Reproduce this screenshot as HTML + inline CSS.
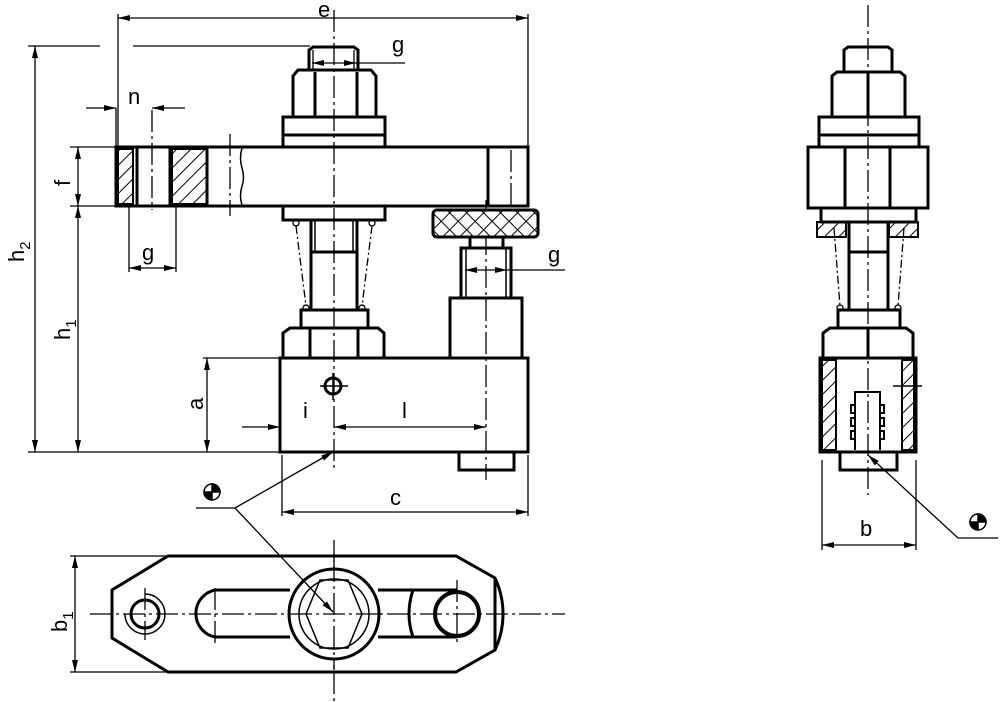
<!DOCTYPE html>
<html><head><meta charset="utf-8"><style>
html,body{margin:0;padding:0;background:#fff;}
svg{display:block}
text{font-family:"Liberation Sans","DejaVu Sans",sans-serif;font-size:22px;fill:#000}
</style></head><body>
<svg width="1000" height="702" viewBox="0 0 1000 702" xmlns="http://www.w3.org/2000/svg">
<defs>
<pattern id="h" width="10" height="10" patternUnits="userSpaceOnUse" patternTransform="rotate(45)">
<line x1="0" y1="0" x2="0" y2="10" stroke="#000" stroke-width="2"/></pattern>
<pattern id="k" width="12" height="12" patternUnits="userSpaceOnUse" patternTransform="rotate(45)">
<rect width="12" height="12" fill="#fff"/><line x1="0" y1="0" x2="0" y2="12" stroke="#000" stroke-width="2"/><line x1="0" y1="0" x2="12" y2="0" stroke="#000" stroke-width="2"/></pattern>
<marker id="a" markerWidth="12" markerHeight="6" refX="12" refY="3" orient="auto-start-reverse" markerUnits="userSpaceOnUse"><path d="M0,0 L12,3 L0,6z" fill="#000"/></marker>
</defs>
<g fill="none" stroke="#000" stroke-width="1.3">
<g stroke-dasharray="22,4,3,4">
<line x1="334" y1="10" x2="334" y2="470"/>
<line x1="486" y1="200" x2="486" y2="480"/>
<line x1="868" y1="5" x2="868" y2="495"/>
<line x1="334" y1="540" x2="334" y2="702"/>
<line x1="90" y1="614" x2="565" y2="614"/>
<line x1="152" y1="110" x2="152" y2="210"/>
<line x1="230" y1="134" x2="230" y2="216"/>
<line x1="511" y1="150" x2="511" y2="206"/>
<line x1="145" y1="588" x2="145" y2="640"/>
<line x1="215" y1="588" x2="215" y2="645"/>
<line x1="457" y1="580" x2="457" y2="645"/>
</g>
<g stroke-dasharray="8,3,2,3">
<line x1="296" y1="226" x2="306" y2="306"/><line x1="372" y1="226" x2="362" y2="306"/>
<line x1="834" y1="228" x2="840" y2="306"/><line x1="904" y1="228" x2="898" y2="306"/>
</g>
<circle cx="296" cy="223" r="3"/><circle cx="372" cy="223" r="3"/>
<circle cx="306" cy="308" r="3"/><circle cx="362" cy="308" r="3"/>
<circle cx="840" cy="308" r="3"/><circle cx="898" cy="308" r="3"/>
<line x1="118" y1="14" x2="118" y2="147"/><line x1="528" y1="14" x2="528" y2="147"/>
<line x1="118" y1="18" x2="528" y2="18" marker-start="url(#a)" marker-end="url(#a)"/>
<line x1="28" y1="46" x2="100" y2="46"/><line x1="133" y1="46" x2="310" y2="46"/>
<line x1="35" y1="46" x2="35" y2="452" marker-start="url(#a)" marker-end="url(#a)"/>
<line x1="28" y1="452" x2="280" y2="452"/>
<line x1="70" y1="147" x2="116" y2="147"/><line x1="70" y1="206" x2="116" y2="206"/>
<line x1="78" y1="147" x2="78" y2="206" marker-start="url(#a)" marker-end="url(#a)"/>
<line x1="78" y1="206" x2="78" y2="452" marker-start="url(#a)" marker-end="url(#a)"/>
<line x1="86" y1="108" x2="116" y2="108" marker-end="url(#a)"/><line x1="185" y1="108" x2="152" y2="108" marker-end="url(#a)"/>
<line x1="116" y1="108" x2="116" y2="147"/>
<line x1="129" y1="206" x2="129" y2="272"/><line x1="176" y1="206" x2="176" y2="272"/>
<line x1="129" y1="268" x2="176" y2="268" marker-start="url(#a)" marker-end="url(#a)"/>
<line x1="312" y1="63" x2="356" y2="63" marker-start="url(#a)" marker-end="url(#a)"/><line x1="356" y1="63" x2="405" y2="63"/>
<line x1="465" y1="270" x2="507" y2="270" marker-start="url(#a)" marker-end="url(#a)"/><line x1="507" y1="270" x2="565" y2="270"/>
<line x1="203" y1="358" x2="280" y2="358"/>
<line x1="207" y1="358" x2="207" y2="452" marker-start="url(#a)" marker-end="url(#a)"/>
<line x1="242" y1="427" x2="280" y2="427" marker-end="url(#a)"/>
<line x1="334" y1="427" x2="486" y2="427" marker-start="url(#a)" marker-end="url(#a)"/>
<line x1="282" y1="455" x2="282" y2="516"/><line x1="528" y1="455" x2="528" y2="516"/>
<line x1="282" y1="512" x2="528" y2="512" marker-start="url(#a)" marker-end="url(#a)"/>
<line x1="75" y1="556" x2="75" y2="672" marker-start="url(#a)" marker-end="url(#a)"/>
<line x1="70" y1="556" x2="168" y2="556"/><line x1="70" y1="672" x2="168" y2="672"/>
<line x1="822" y1="460" x2="822" y2="550"/><line x1="916" y1="460" x2="916" y2="550"/>
<line x1="822" y1="545" x2="916" y2="545" marker-start="url(#a)" marker-end="url(#a)"/>
<polyline points="196,508 235,508 333,452" marker-end="url(#a)"/>
<polyline points="998,538 958,538 868,455" marker-end="url(#a)"/>
</g>
<g stroke="#000" stroke-width="1.5">
<circle cx="212" cy="492" r="8" fill="#fff"/><path d="M212,492 L212,484 A8,8 0 0 1 220,492Z M212,492 L212,500 A8,8 0 0 1 204,492Z" fill="#000"/>
<circle cx="978" cy="522" r="8" fill="#fff"/><path d="M978,522 L978,514 A8,8 0 0 1 986,522Z M978,522 L978,530 A8,8 0 0 1 970,522Z" fill="#000"/>
</g>
<g fill="none" stroke="#000" stroke-width="3">
<path d="M309,70 L309,50 L313,47 L354,47 L358,50 L358,70"/>
<line x1="313" y1="50" x2="313" y2="70" stroke-width="1.3"/><line x1="354" y1="50" x2="354" y2="70" stroke-width="1.3"/>
<path d="M293,117 L293,76 L298,70 L371,70 L376,76 L376,117"/>
<line x1="315" y1="72" x2="315" y2="117"/><line x1="357" y1="72" x2="357" y2="117"/>
<rect x="283" y="117" width="102" height="30"/><line x1="283" y1="135" x2="385" y2="135"/>
<rect x="116" y="147" width="412" height="59"/>
<rect x="118" y="149" width="15" height="55" fill="url(#h)" stroke-width="2"/>
<rect x="172" y="149" width="35" height="55" fill="url(#h)" stroke-width="2"/>
<line x1="137" y1="147" x2="137" y2="206"/><line x1="170" y1="147" x2="170" y2="206"/>
<line x1="207" y1="147" x2="207" y2="206"/>
<path d="M242,148 q-3,10 0,20 q3,10 0,18 q-3,10 0,19" stroke-width="1.5"/>
<line x1="488" y1="147" x2="488" y2="206"/>
<rect x="283" y="206" width="102" height="14"/>
<rect x="311" y="220" width="46" height="90"/>
<line x1="315" y1="220" x2="315" y2="252" stroke-width="1.5"/><line x1="353" y1="220" x2="353" y2="252" stroke-width="1.5"/>
<line x1="311" y1="252" x2="357" y2="252"/>
<rect x="301" y="310" width="67" height="18"/>
<path d="M283,358 L283,333 L290,328 L378,328 L384,333 L384,358 Z"/>
<line x1="310" y1="328" x2="310" y2="358"/><line x1="358" y1="328" x2="358" y2="358"/>
<rect x="280" y="358" width="248" height="94"/>
<rect x="433" y="210" width="105" height="27" rx="4" fill="url(#k)"/>
<rect x="470" y="237" width="33" height="11"/>
<rect x="461" y="248" width="50" height="50"/>
<line x1="466" y1="248" x2="466" y2="298" stroke-width="1.5"/><line x1="506" y1="248" x2="506" y2="298" stroke-width="1.5"/>
<rect x="450" y="298" width="72" height="60"/>
<rect x="459" y="452" width="55" height="18"/>
<circle cx="333" cy="386" r="8"/>
<line x1="320" y1="386" x2="348" y2="386" stroke-width="1.5"/><line x1="333" y1="373" x2="333" y2="400" stroke-width="1.5"/>
<path d="M844,72 L844,50 L848,47 L888,47 L892,50 L892,72"/>
<path d="M832,117 L832,76 L837,72 L900,72 L905,76 L905,117"/>
<line x1="868" y1="72" x2="868" y2="117"/>
<rect x="819" y="117" width="100" height="30"/><line x1="819" y1="135" x2="919" y2="135"/>
<rect x="808" y="147" width="120" height="61"/>
<line x1="845" y1="147" x2="845" y2="208"/><line x1="890" y1="147" x2="890" y2="208"/>
<rect x="821" y="208" width="95" height="14"/>
<rect x="817" y="222" width="29" height="15" fill="url(#h)" stroke-width="2"/>
<rect x="889" y="222" width="29" height="15" fill="url(#h)" stroke-width="2"/>
<rect x="849" y="222" width="39" height="88"/>
<line x1="849" y1="252" x2="888" y2="252"/>
<rect x="838" y="310" width="62" height="18"/>
<path d="M823,358 L823,333 L830,328 L906,328 L913,333 L913,358 Z"/>
<line x1="868" y1="328" x2="868" y2="358"/>
<rect x="820" y="358" width="96" height="94"/>
<rect x="822" y="360" width="14" height="90" fill="url(#h)" stroke-width="2"/>
<rect x="902" y="360" width="12" height="90" fill="url(#h)" stroke-width="2"/>
<path d="M855,450 L855,392 L880,392 L880,450 M855,405 l-4,0 0,8 4,0 M855,418 l-4,0 0,8 4,0 M855,431 l-4,0 0,8 4,0 M880,405 l4,0 0,8 -4,0 M880,418 l4,0 0,8 -4,0 M880,431 l4,0 0,8 -4,0" stroke-width="2"/>
<rect x="840" y="452" width="57" height="18"/>
<line x1="893" y1="386" x2="922" y2="386" stroke-width="1.5"/><line x1="902" y1="376" x2="902" y2="396" stroke-width="1.5"/>
<path d="M168,556 L456,556 L495,578 L495,650 L456,672 L168,672 L112,638 L112,590 Z"/>
<path d="M495,578 A85,85 0 0 1 495,650"/>
<circle cx="145" cy="614" r="14"/>
<path d="M145,594 A20,20 0 1 1 125,614" stroke-width="1.5"/>
<path d="M290,590 L215,590 A24,24 0 0 0 215,637 L290,637"/>
<path d="M378,590 L457,590 M378,637 L457,637"/>
<path d="M413,590 Q405,614 413,637" stroke-width="3"/>
<circle cx="457" cy="614" r="22" stroke-width="4"/>
<circle cx="334" cy="614" r="45" fill="#fff"/>
<polygon points="320,580 348,580 362,614 348,648 320,648 306,614" stroke-width="1.5"/>
<circle cx="334" cy="614" r="35" stroke-width="1.5"/>
</g>
<g fill="none" stroke="#000" stroke-width="1.3">
<line x1="334" y1="560" x2="334" y2="670" stroke-dasharray="22,4,3,4"/>
<line x1="290" y1="614" x2="380" y2="614" stroke-dasharray="22,4,3,4"/>
<line x1="235" y1="508" x2="333" y2="612" marker-end="url(#a)"/>
</g>
<text x="318" y="17">e</text>
<text x="392" y="52">g</text>
<text x="128" y="104">n</text>
<text x="142" y="260">g</text>
<text x="548" y="262">g</text>
<text x="303" y="418">i</text>
<text x="402" y="418">l</text>
<text x="390" y="505">c</text>
<text x="860" y="536">b</text>
<text transform="translate(24,262) rotate(-90)">h<tspan font-size="15" dy="6">2</tspan></text>
<text transform="translate(70,340) rotate(-90)">h<tspan font-size="15" dy="6">1</tspan></text>
<text transform="translate(70,186) rotate(-90)">f</text>
<text transform="translate(203,410) rotate(-90)">a</text>
<text transform="translate(67,632) rotate(-90)">b<tspan font-size="15" dy="6">1</tspan></text>
</svg>
</body></html>
